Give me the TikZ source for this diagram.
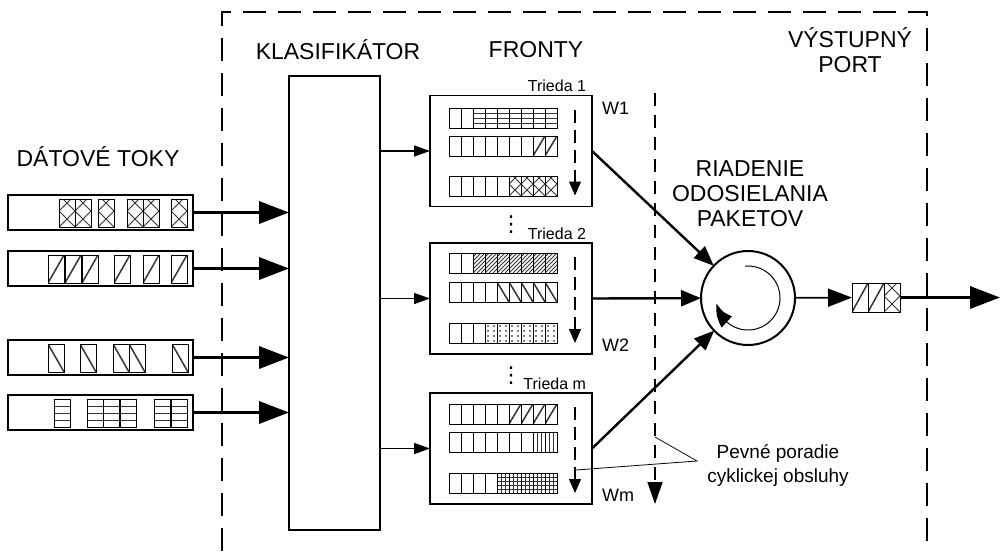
\documentclass[tikz,border=0pt]{standalone}
\usepackage{fontspec}
\setmainfont{Liberation Sans}
\newfontfamily\symfont{DejaVu Sans}
\usetikzlibrary{arrows.meta,bending,positioning}

% hatchings used inside the packet cells
\tikzset{
  hatchln/.style={line width=0.9pt, black!80},
  ne lines/.style={path picture={\foreach \k in {-12,...,12}
      \draw[hatchln,shift={(path picture bounding box.south west)}] (\k*#1,0) -- ++(40,-40);}},
  nw lines/.style={path picture={\foreach \k in {-12,...,12}
      \draw[hatchln,shift={(path picture bounding box.south east)}] (\k*#1,0) -- ++(-40,-40);}},
  cross lines/.style={path picture={\foreach \k in {-12,...,12}{
      \draw[hatchln,shift={(path picture bounding box.south west)}] (\k*#1,0) -- ++(40,-40);
      \draw[hatchln,shift={(path picture bounding box.south east)}] (\k*#1,0) -- ++(-40,-40);}}},
  diag ne/.style={path picture={\draw[hatchln,line width=1.5pt]
      (path picture bounding box.south west) -- (path picture bounding box.north east);}},
  diag nw/.style={path picture={\draw[hatchln,line width=1.5pt]
      (path picture bounding box.north west) -- (path picture bounding box.south east);}},
  h lines/.style={path picture={\foreach \k in {1,...,7}
      \draw[hatchln,shift={(path picture bounding box.north west)}] (0,\k*#1) -- ++(30,0);}},
  v lines/.style={path picture={\foreach \k in {1,...,7}
      \draw[hatchln,shift={(path picture bounding box.north west)}] (\k*#1,0) -- ++(0,30);}},
  grid lines/.style={path picture={\foreach \k in {1,...,7}{
      \draw[hatchln,shift={(path picture bounding box.north west)}] (0,\k*#1) -- ++(30,0);
      \draw[hatchln,shift={(path picture bounding box.north west)}] (\k*#1,0) -- ++(0,30);}}},
  dot fill/.style={path picture={\foreach \i in {0,1}\foreach \j in {0,...,3}
      \fill[shift={(path picture bounding box.north west)}] (3+6*\i,3+5*\j) circle[radius=0.8];}},
}

% one row of a class queue: y, number of free slots, hatching of the rest
\newcommand\qrow[3]{%
  \foreach \i in {0,...,8}{%
    \ifnum\i<#2\relax
      \draw[qcell] (449+12*\i,#1) rectangle ++(12,20);
    \else
      \draw[qcell,#3] (449+12*\i,#1) rectangle ++(12,20);
    \fi}}

\begin{document}
\begin{tikzpicture}[x=1pt, y=-1pt,
    every node/.style={inner sep=0pt, outer sep=0pt},
    lbl/.style={font=\fontsize{23}{25}\selectfont, align=center},
    cls/.style={font=\fontsize{16}{18}\selectfont},
    vdts/.style={font=\symfont\fontsize{22}{22}\selectfont},
    wlbl/.style={font=\fontsize{18}{20}\selectfont},
    note/.style={font=\fontsize{19}{24}\selectfont, align=center},
    frame/.style={line width=2.2pt, dash pattern=on 23pt off 12pt},
    flowbar/.style={draw, line width=2.2pt, minimum width=185pt, minimum height=35pt},
    pkt/.style={draw, line width=0.9pt, fill=white},
    qcell/.style={draw, line width=0.8pt},
    clfbox/.style={draw, line width=2.4pt, minimum width=91pt, minimum height=454pt},
    qbox/.style={draw, line width=1.6pt, minimum width=162pt, minimum height=111pt},
    schedc/.style={draw, circle, line width=2pt, minimum size=94pt},
    flowarrow/.style={line width=3.4pt, -{Triangle[length=30pt,width=22pt]}},
    clarrow/.style={line width=1.6pt, -{Triangle[length=16pt,width=11pt]}},
    outarrow/.style={line width=1.8pt, -{Triangle[length=24pt,width=18pt]}},
    schedarrow/.style={line width=2.4pt, -{Triangle[length=20pt,width=16pt]}},
    ordarrow/.style={line width=1.4pt, dash pattern=on 13pt off 9pt, -{Triangle[length=22pt,width=15pt]}},
    qorder/.style={line width=1.2pt, dash pattern=on 13pt off 7pt, -{Triangle[length=14pt,width=12pt]}},
  ]
  \useasboundingbox (0,0) rectangle (1000,551);

  % output port border
  \draw[frame] (222,551) -- (222,12) -- (927,12) -- (927,551);

  % headings
  \node[lbl] (tflows) at (98,157) {DÁTOVÉ TOKY};
  \node[lbl] (tclf) at (338,50) {KLASIFIKÁTOR};
  \node[lbl] (tqueues) at (536,50) {FRONTY};
  \node[lbl] (tport) at (850,50) {VÝSTUPNÝ\\PORT};
  \node[lbl] (tsched) at (750,194) {RIADENIE\\ODOSIELANIA\\PAKETOV};

  % incoming flows
  \foreach \n/\y in {1/212.5, 2/268.5, 3/357.5, 4/412.5}
    \node[flowbar] (flow\n) at (100.5,\y) {};
  \foreach \x in {59,75,98,127,143,171}
    \draw[pkt,cross lines=16] (\x,199) rectangle ++(16,28);
  \foreach \x in {48,65,82,114,143,171}
    \draw[pkt,diag ne] (\x,255) rectangle ++(16,28);
  \foreach \x in {48,80,113,129,172}
    \draw[pkt,diag nw] (\x,344) rectangle ++(16,28);
  \foreach \x in {54,87,103,120,154,171}
    \draw[pkt,h lines=7] (\x,399) rectangle ++(16,28);

  % classifier
  \node[clfbox] (clf) at (334.5,303) {};
  \foreach \n in {1,...,4}
    \draw[flowarrow] (flow\n.east) -- (flow\n.east -| clf.west);

  % class queues
  \node[qbox] (q1) at (511,151) {};
  \node[qbox] (q2) at (511,298.5) {};
  \node[qbox] (q3) at (511,448.5) {};
  \foreach \n in {1,2,3}
    \draw[clarrow] (q\n.west -| clf.east) -- (q\n.west);

  \node[cls, anchor=base east] (c1) at ([shift={(-6,-4)}]q1.north east) {Trieda 1};
  \node[cls, anchor=base east] (c2) at ([shift={(-6,-4)}]q2.north east) {Trieda 2};
  \node[cls, anchor=base east] (cm) at ([shift={(-6,-4)}]q3.north east) {Trieda m};
  \node[vdts] (dots2) at (511,225) {⋮};
  \node[vdts] (dotsm) at (511,376) {⋮};

  \node[wlbl, anchor=west] (w1) at ([shift={(10,13)}]q1.north east) {W1};
  \node[wlbl, anchor=west] (w2) at ([shift={(10,-9)}]q2.south east) {W2};
  \node[wlbl, anchor=west] (wm) at ([shift={(10,-9)}]q3.south east) {Wm};

  \qrow{108}{2}{h lines=5}
  \qrow{136}{7}{diag ne}
  \qrow{176}{5}{cross lines=12}
  \qrow{253}{2}{ne lines=4}
  \qrow{282}{4}{diag nw}
  \qrow{323}{3}{dot fill}
  \qrow{404}{5}{diag ne}
  \qrow{432}{7}{v lines=4}
  \qrow{473}{4}{grid lines=4}

  % service order inside each queue
  \foreach \n in {1,2,3}
    \draw[qorder] ([shift={(-17,14)}]q\n.north east) -- ([shift={(-17,-11)}]q\n.south east);

  % scheduler
  \node[schedc] (sched) at (748,298) {};
  \draw[line width=1pt, -{Triangle[bend,length=22pt,width=15pt]}]
    ([shift={(-95:32)}]sched.center) arc[start angle=-95, end angle=170, radius=32];
  \foreach \n in {1,2,3}
    \draw[schedarrow] (q\n.east) -- (sched);

  % outgoing packets
  \node[draw, line width=0.9pt, minimum width=48pt, minimum height=29pt] (outpkt) at (876,297.5) {};
  \draw[pkt,diag ne] (852,283) rectangle ++(16,29);
  \draw[pkt,diag ne] (868,283) rectangle ++(16,29);
  \draw[pkt,cross lines=16] (884,283) rectangle ++(16,29);
  \draw[outarrow] (sched) -- (outpkt);
  \coordinate (exit) at (1000,297.5);
  \draw[flowarrow] (outpkt) -- (exit);

  % fixed round robin order
  \coordinate (ordtop) at (655,93);
  \coordinate (ordbot) at (655,504);
  \draw[ordarrow] (ordtop) -- (ordbot);
  \node[note] (note) at (778,465) {Pevné poradie\\cyklickej obsluhy};
  \coordinate (notept) at (697,461);
  \coordinate (ordmark) at (655,437);
  \coordinate (qmark) at (576,470);
  \draw[line width=0.8pt] (ordmark) -- (notept) -- (qmark);

\end{tikzpicture}
\end{document}
